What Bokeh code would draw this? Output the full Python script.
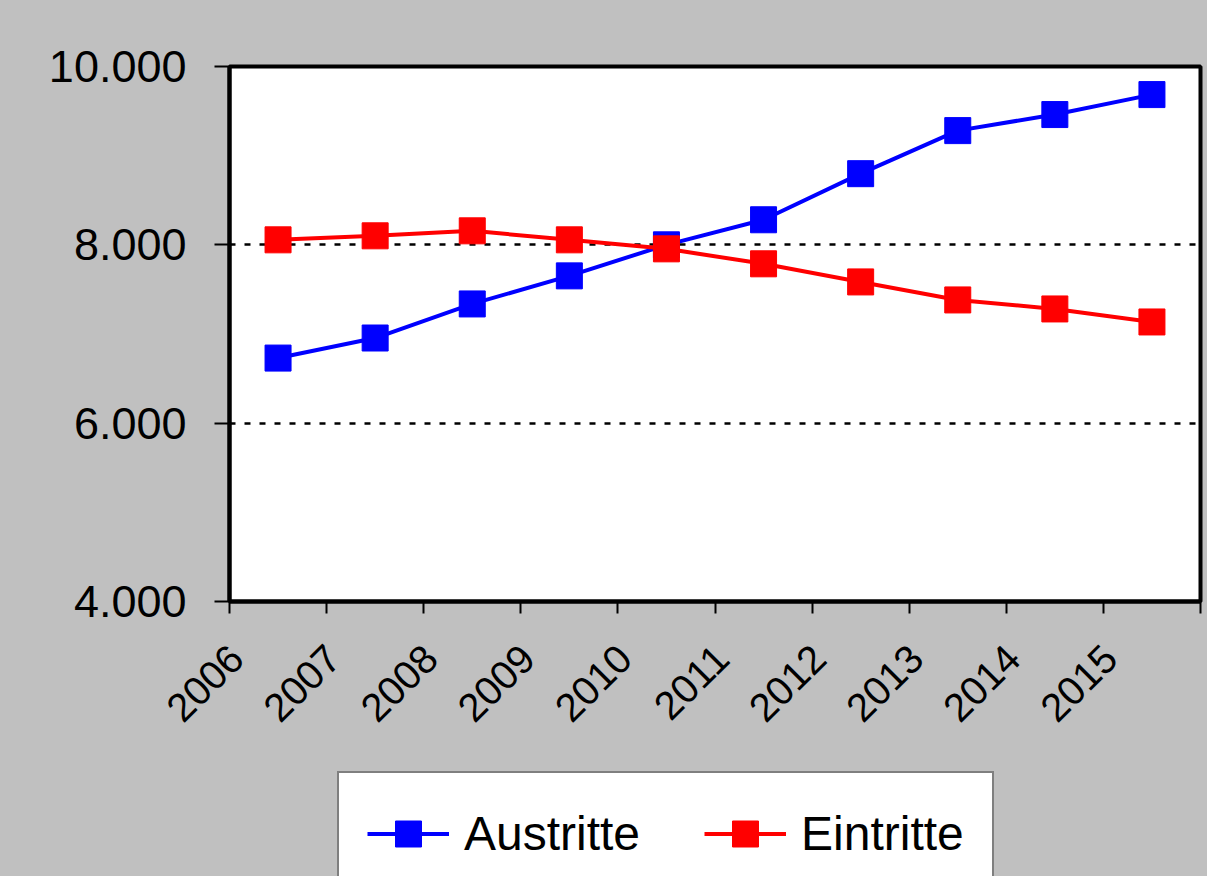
import math
from bokeh.plotting import figure
from bokeh.layouts import column
from bokeh.models import (Range1d, FixedTicker, LinearAxis, Legend, LegendItem, Grid)
from bokeh.embed import file_html
from bokeh.resources import INLINE

# ---- data ----
years = [2006, 2007, 2008, 2009, 2010, 2011, 2012, 2013, 2014, 2015]
austritte = [6730, 6955, 7337, 7652, 8000, 8281, 8798, 9281, 9461, 9685]
eintritte = [8056, 8101, 8157, 8056, 7955, 7787, 7584, 7382, 7281, 7135]
y_ticks = [4000, 6000, 8000, 10000]
y_tick_labels = ["4.000", "6.000", "8.000", "10.000"]
grid_values = [6000, 8000, 10000]
series_names = ["Austritte", "Eintritte"]
series_colors = ["#0000FF", "#FF0000"]

FONT = "Liberation Sans"
GRAY = "#C0C0C0"

x_pos = [y + 0.5 for y in years]
boundaries = years + [years[-1] + 1]
label_pos = [y + 0.07 for y in years]
series_values = [austritte, eintritte]

p = figure(width=1207, height=760,
           x_range=Range1d(years[0], years[-1] + 1),
           y_range=Range1d(y_ticks[0], y_ticks[-1]),
           output_backend="svg", toolbar_location=None,
           x_axis_location=None, y_axis_location=None)
p.min_border_left = 229
p.min_border_right = 7
p.min_border_top = 66
p.min_border_bottom = 159
p.border_fill_color = GRAY
p.background_fill_color = "white"
p.outline_line_color = "black"
p.outline_line_width = 4
p.xgrid.visible = False
p.ygrid.visible = False

# y axis
yax = LinearAxis(ticker=FixedTicker(ticks=y_ticks),
                 major_label_overrides={t: l for t, l in zip(y_ticks, y_tick_labels)})
yax.axis_line_width = 4
yax.axis_line_color = "black"
yax.major_tick_out = 15
yax.major_tick_in = 0
yax.major_tick_line_width = 2
yax.minor_tick_line_color = None
yax.major_label_standoff = 28
yax.major_label_text_font = FONT
yax.major_label_text_font_size = "45px"
yax.major_label_text_color = "black"
p.add_layout(yax, "left")

# x axis (tick marks at category boundaries)
xax = LinearAxis(ticker=FixedTicker(ticks=boundaries),
                 major_label_overrides={b: "" for b in boundaries})
xax.axis_line_width = 4
xax.axis_line_color = "black"
xax.major_tick_out = 12
xax.major_tick_in = 0
xax.major_tick_line_width = 2
xax.minor_tick_line_color = None
xax.major_label_standoff = 0
p.add_layout(xax, "below")

# x labels axis
xlab = LinearAxis(ticker=FixedTicker(ticks=label_pos),
                  major_label_overrides={lp: str(y) for lp, y in zip(label_pos, years)})
xlab.axis_line_color = None
xlab.major_tick_line_color = None
xlab.minor_tick_line_color = None
xlab.major_label_orientation = math.pi / 4
xlab.major_label_standoff = 32
xlab.major_label_text_font = FONT
xlab.major_label_text_font_size = "40px"
xlab.major_label_text_color = "black"
p.add_layout(xlab, "below")

# grid
g = Grid(dimension=1, ticker=FixedTicker(ticks=grid_values))
g.grid_line_color = "black"
g.grid_line_dash = "6 9"
g.grid_line_width = 2.5
p.add_layout(g)

# series
for vals, col in zip(series_values, series_colors):
    p.line(x_pos, vals, line_color=col, line_width=4)
    p.scatter(x_pos, vals, marker="square", size=26,
              fill_color=col, line_color=col)

# ---- legend strip (second figure, continuing the grey chart area) ----
p2 = figure(width=1207, height=116, x_range=Range1d(0, 1), y_range=Range1d(0, 1),
            output_backend="svg", toolbar_location=None,
            x_axis_location=None, y_axis_location=None)
p2.min_border_left = 0
p2.min_border_right = 0
p2.min_border_top = 0
p2.min_border_bottom = 0
p2.border_fill_color = GRAY
p2.background_fill_color = None
p2.outline_line_color = None
p2.xgrid.visible = False
p2.ygrid.visible = False

items = []
for name, vals, col in zip(series_names, series_values, series_colors):
    # same series, outside this strip's visible range: only used for the legend glyphs
    rl = p2.line(x_pos, vals, line_color=col, line_width=4)
    rs = p2.scatter(x_pos, vals, marker="square", fill_color=col, line_color=col)
    items.append(LegendItem(label=name, renderers=[rl, rs]))

legend = Legend(items=items, orientation="horizontal", location=(108, -20))
legend.label_text_font = FONT
legend.label_text_font_size = "48px"
legend.label_text_color = "black"
legend.glyph_width = 82
legend.glyph_height = 65
legend.label_standoff = 15
legend.spacing = 64
legend.padding = 28
legend.margin = 0
legend.border_line_color = "black"
legend.border_line_width = 2.5
legend.background_fill_color = "white"
legend.background_fill_alpha = 1
p2.add_layout(legend)

layout = column(p, p2, spacing=0, styles={"background-color": GRAY})
open("out.html", "w").write(file_html(layout, INLINE))
